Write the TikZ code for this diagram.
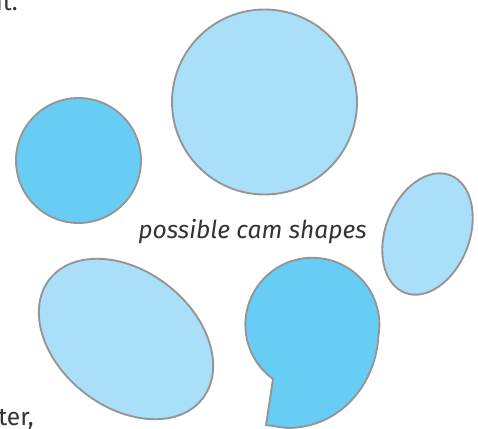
\documentclass[tikz,border=0pt]{standalone}
\usepackage{fontspec}
\setmainfont{Fira Sans}
\usepackage{tikz}
\usetikzlibrary{positioning,shapes.geometric}
\usepackage{xcolor}
\definecolor{camlight}{HTML}{A9DFF9}
\definecolor{camdark}{HTML}{68CDF4}
\definecolor{camline}{HTML}{959595}
\definecolor{textgrey}{HTML}{333333}

\begin{document}
\begin{tikzpicture}[
    x=0.03cm, y=-0.03cm,
    cam/.style={draw=camline, line width=1.6pt, fill=camlight, inner sep=0pt, outer sep=0pt},
    darkcam/.style={cam, fill=camdark},
    caption/.style={text=textgrey, font=\fontsize{21}{25}\selectfont\itshape, inner sep=0pt},
    bodytext/.style={text=textgrey, font=\fontsize{21}{25}\selectfont, inner sep=0pt}
]
\useasboundingbox (0,0) rectangle (478,429);

% Cams
\node[cam, circle, minimum size=5.55cm] (big) at (264.5,102) {};
\node[darkcam, circle, minimum size=3.75cm] (round) at (78.5,160.5) {};
\node[cam, ellipse, minimum width=2.52cm, minimum height=3.78cm, rotate=-21] (narrow) at (427.5,234) {};
\node[cam, ellipse, minimum width=5.82cm, minimum height=4.08cm, rotate=-38] (egg) at (126,339) {};
\draw[darkcam] (273,379) arc[start angle=126, end angle=370, radius=67]
    .. controls (376,382) and (342,428) .. (287,428) -- (266,425) -- cycle;

% Texts
\node[caption, anchor=base east] (shapes) at (367,238) {possible cam shapes};
\node[bodytext, anchor=base east] (top) at (18,11) {nt.};
\node[bodytext, anchor=base east] (bottom) at (34,425) {ter,};

\end{tikzpicture}
\end{document}
